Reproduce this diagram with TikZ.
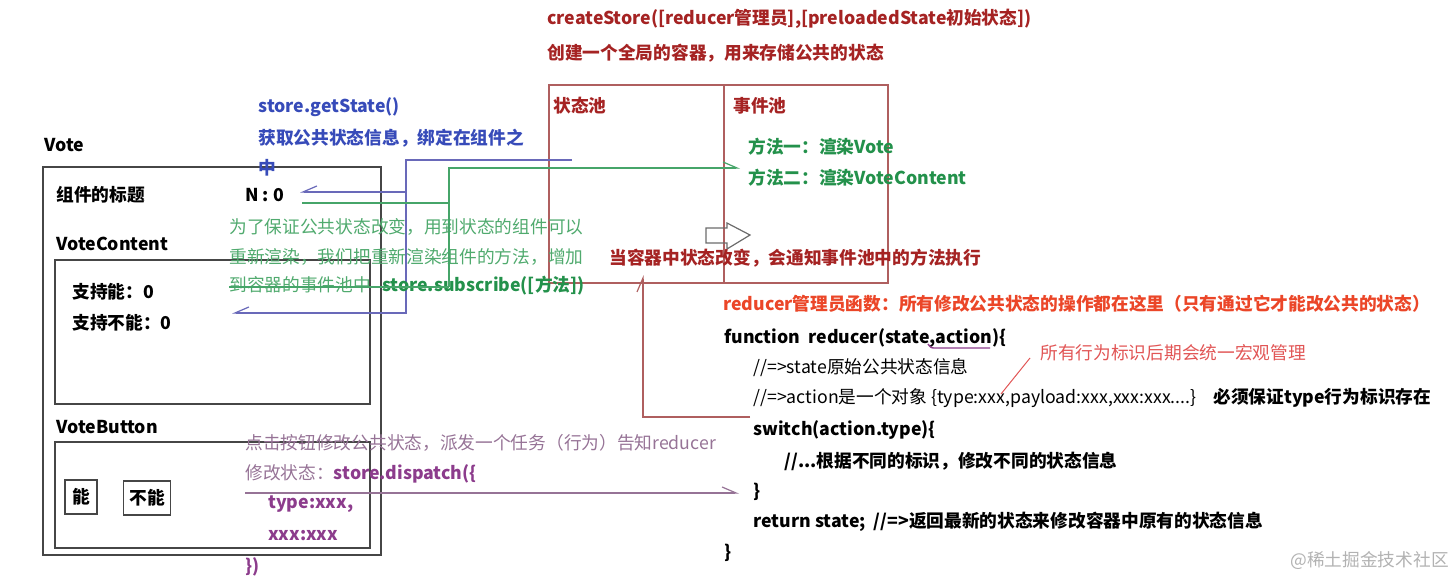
\documentclass[tikz,border=0pt]{standalone}
\usepackage{fontspec}
\setmainfont{Noto Sans CJK SC}
\usetikzlibrary{arrows.meta}

\definecolor{darkred}{RGB}{165,35,35}
\definecolor{boxred}{RGB}{175,95,95}
\definecolor{boxgray}{RGB}{70,70,70}
\definecolor{getblue}{RGB}{55,75,185}
\definecolor{lineblue}{RGB}{105,105,185}
\definecolor{subgreen}{RGB}{35,145,75}
\definecolor{lightgreen}{RGB}{80,170,110}
\definecolor{linegreen}{RGB}{70,165,105}
\definecolor{disppurple}{RGB}{140,60,140}
\definecolor{lightpurple}{RGB}{150,115,150}
\definecolor{hintred}{RGB}{235,70,40}
\definecolor{notered}{RGB}{225,85,85}

\tikzset{
  txt/.style={anchor=west,inner sep=0pt,font=\fontsize{8.85}{10}\selectfont},
  bold/.style={txt,font=\fontsize{8.85}{10}\selectfont\bfseries},
  compbox/.style={draw=boxgray,line width=.8pt},
  btn/.style={draw=boxgray,line width=.8pt,inner sep=0pt,font=\fontsize{8.85}{10}\selectfont\bfseries},
  barb/.style={-{Straight Barb[harpoon,length=7pt,width=6pt]}},
  barbswap/.style={-{Straight Barb[harpoon,swap,length=7pt,width=6pt]}}
}

\begin{document}
\begin{tikzpicture}[x=.5pt,y=-.5pt]
  \useasboundingbox (0,0) rectangle (1456,578);

  % store and its two pools
  \node[bold,darkred] (create) at (547,19) {createStore([reducer管理员],[preloadedState初始状态])};
  \node[bold,darkred] (createdesc) at (547,53) {创建一个全局的容器，用来存储公共的状态};
  \draw[boxred,line width=.7pt] (549,85) rectangle (888,283);
  \draw[boxred,line width=.7pt] (724,85) -- (724,283);
  \node[bold,darkred] (statepool) at (553,106) {状态池};
  \node[bold,darkred] (eventpool) at (733,106) {事件池};
  \node[bold,subgreen] (method1) at (748,147) {方法一：渲染Vote};
  \node[bold,subgreen] (method2) at (748,178) {方法二：渲染VoteContent};
  \draw[boxgray!80,line width=.6pt]
    (706,228) -- (727,228) -- (727,223) -- (750,235) -- (727,249)
    -- (727,243) -- (706,243) -- cycle;
  \node[bold,darkred] (notify) at (609,258) {当容器中状态改变，会通知事件池中的方法执行};

  % components
  \node[bold] (vote) at (44,145) {Vote};
  \draw[compbox] (43,167) rectangle (381,555);
  \node[bold] (votetitle) at (56,195) {组件的标题};
  \node[bold] (nval) at (245,195) {N : 0};
  \node[bold] (vc) at (56,244) {VoteContent};
  \draw[compbox] (55,260) rectangle (370,404);
  \node[bold] (yes) at (72,292) {支持能：0};
  \node[bold] (no) at (72,323) {支持不能：0};
  \node[bold] (vb) at (56,427) {VoteButton};
  \draw[compbox] (55,442) rectangle (370,548);
  \node[btn,minimum width=16pt,minimum height=17pt] (btnyes) at (81,497) {能};
  \node[btn,minimum width=23.5pt,minimum height=17pt] (btnno) at (147,498) {不能};

  % getState
  \node[bold,getblue] (get1) at (258,107) {store.getState()};
  \node[bold,getblue] (get2) at (258,138) {获取公共状态信息，绑定在组件之};
  \node[bold,getblue] (get3) at (258,168) {中};
  \coordinate (getstart) at (572,160);
  \coordinate (getbend) at (406,160);
  \coordinate (getmid) at (406,192);
  \coordinate (getlow) at (406,313);
  \coordinate (getend) at (232,313);
  \coordinate (nin) at (300,192);
  \draw[lineblue,line width=.6pt,barbswap] (getstart) -- (getbend) -- (getlow) -- (getend);
  \draw[lineblue,line width=.6pt,barbswap] (getmid) -- (nin);

  % subscribe
  \node[txt,lightgreen] (sub1) at (229,227) {为了保证公共状态改变，用到状态的组件可以};
  \node[txt,lightgreen] (sub2) at (229,257) {重新渲染，我们把重新渲染组件的方法，增加};
  \node[txt,lightgreen] (sub3) at (229,286) {到容器的事件池中\hspace{5.5pt}{\bfseries\color{subgreen}store.subscribe([方法])}};
  \coordinate (nout) at (302,203);
  \coordinate (subtop) at (449,168);
  \coordinate (submid) at (449,203);
  \coordinate (sublow) at (449,287);
  \coordinate (subleft) at (229,287);
  \coordinate (subend) at (740,168);
  \draw[linegreen,line width=.6pt] (nout) -- (submid);
  \draw[linegreen,line width=.6pt] (subleft) -- (sublow);
  \draw[linegreen,line width=.6pt,barb] (sublow) -- (subtop) -- (subend);

  % dispatch
  \node[txt,lightpurple] (disp1) at (245,443) {点击按钮修改公共状态，派发一个任务（行为）告知reducer};
  \node[txt,lightpurple] (disp2) at (245,474) {修改状态：{\bfseries\color{disppurple}store.dispatch(\{}};
  \node[bold,disppurple] (disp3) at (268,504) {type:xxx,};
  \node[bold,disppurple] (disp4) at (268,536) {xxx:xxx};
  \node[bold,disppurple] (disp5) at (245,567) {\})};
  \coordinate (dispstart) at (245,493);
  \coordinate (dispend) at (739,493);
  \draw[lightpurple,line width=.6pt,barb] (dispstart) -- (dispend);

  % reducer
  \node[bold,hintred] (redhint) at (723,304) {reducer管理员函数：所有修改公共状态的操作都在这里（只有通过它才能改公共的状态）};
  \node[bold] (code1) at (724,338) {function\ \ reducer(state,action)\{};
  \node[txt] (code2) at (753,368) {//=>state原始公共状态信息};
  \node[txt] (code3) at (753,398) {//=>action是一个对象 \{type:xxx,payload:xxx,xxx:xxx....\}};
  \node[bold] (code3b) at (1213,398) {必须保证type行为标识存在};
  \node[bold] (code4) at (753,430) {switch(action.type)\{};
  \node[bold] (code5) at (784,461) {//...根据不同的标识，修改不同的状态信息};
  \node[bold] (code6) at (753,492) {\}};
  \node[bold] (code7) at (753,522) {return state;\ \ //=>返回最新的状态来修改容器中原有的状态信息};
  \node[bold] (code8) at (724,553) {\}};
  \draw[disppurple,line width=.7pt] (928,344) .. controls (931,348) .. (936,348) -- (990,348);
  \node[txt,notered] (note) at (1040,353) {所有行为标识后期会统一宏观管理};
  \coordinate (notefoot) at (1030,358);
  \coordinate (notetip) at (1001,394);
  \draw[notered,line width=.5pt] (notefoot) -- (notetip);
  \coordinate (redstart) at (750,417);
  \coordinate (redbend) at (643,417);
  \coordinate (redend) at (643,275);
  \draw[boxred,line width=.6pt,barb] (redstart) -- (redbend) -- (redend);

  \node[txt,black!30] (mark) at (1290,561) {@稀土掘金技术社区};
\end{tikzpicture}
\end{document}
